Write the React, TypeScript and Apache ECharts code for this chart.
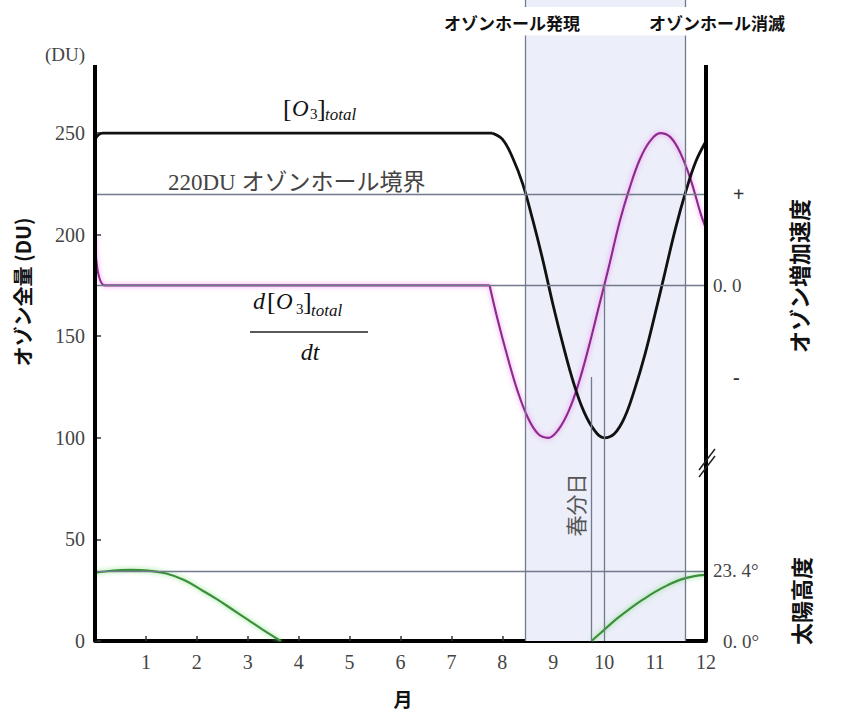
import React, { useEffect, useRef } from "react";
import * as echarts from "echarts";

// ---- data ----
const o3FlatMonths = [0, 0.15, 7.8];
const o3FlatValues = [247, 250, 250];
const o3WaveMonths = [7.8, 8.0, 8.2, 8.4, 8.6, 8.8, 9.0, 9.2, 9.4, 9.6, 9.8, 10.0, 10.2, 10.4, 10.6, 10.8, 11.0, 11.2, 11.4, 11.6, 11.8, 12.0];
const o3WaveValues = [250, 247, 238, 225, 207, 187, 165, 145, 127, 113, 104, 100, 102, 110, 124, 141, 161, 182, 203, 221, 236, 246];

const rateFlatMonths = [0, 0.2, 7.75];
const rateFlatValues = [200, 175, 175];
const rateWaveMonths = [7.75, 7.9, 8.1, 8.3, 8.5, 8.7, 8.9, 9.1, 9.3, 9.5, 9.7, 9.9, 10.1, 10.3, 10.5, 10.7, 10.9, 11.1, 11.3, 11.5, 11.7, 11.9, 12.0];
const rateWaveValues = [175, 159, 140, 123, 110, 102, 100, 104, 113, 127, 145, 165, 185, 206, 223, 237, 246, 250, 248, 240, 227, 210, 203];

const sunWinterMonths = [0, 0.35, 0.7, 1.05, 1.4, 1.75, 2.1, 2.4, 2.7, 3.0, 3.3, 3.65];
const sunWinterValues = [33.5, 34.7, 35, 34.6, 33.2, 30, 25, 20.5, 15.5, 10.5, 5.5, 0];
const sunSpringMonths = [9.75, 10.0, 10.25, 10.5, 10.75, 11.0, 11.25, 11.5, 11.75, 12.0];
const sunSpringValues = [0, 5.5, 11, 15.8, 20.2, 24.2, 27.5, 30.2, 31.8, 32.5];

const boundaryDU = 220; // ozone hole boundary
const rateZeroDU = 175; // 0.0 of growth-rate axis
const sunMaxDU = 34.5; // 23.4 deg level
const holeStart = 8.45;
const holeEnd = 11.6;
const equinoxMonth = 9.75;
const minMonth = 10;
const equinoxLineTop = 130;

const monthTicks = [1, 2, 3, 4, 5, 6, 7, 8, 9, 10, 11, 12];
const duTicks = [0, 50, 100, 150, 200, 250];
const rightTickValues = [0, 34.5, 130, 175, 220];
const rightTickLabels = ["0. 0°", "23. 4°", "-", "0. 0", "+"];

const xMax = 12;
const yMax = 315.5;
const axisTop = 283.5;
const bandTop = 298;
const bracketBottom = 312;

const zip = (xs: number[], ys: number[]) => xs.map((x, i) => [x, ys[i]]);

const SERIF = "'Liberation Serif', 'Times New Roman', serif";
const SERIF_JP = "'Liberation Serif', 'Noto Sans CJK JP', serif";
const SANS_JP = "'Noto Sans CJK JP', sans-serif";
const GUIDE = "#727a8c";
const SHADE = "#eceef9";
const LABEL = "#444";

function txt(x: number, y: number, text: string, o: any = {}) {
  return {
    type: "text",
    x,
    y,
    rotation: o.rotation || 0,
    silent: true,
    z: 10,
    style: {
      text,
      fontSize: o.size || 16,
      fontFamily: o.family || SERIF,
      fontWeight: o.weight || "normal",
      fontStyle: o.style || "normal",
      fill: o.fill || "#111",
      align: o.align || "center",
      textAlign: o.align || "center",
      verticalAlign: "middle",
      textVerticalAlign: "middle",
    },
  };
}

export default function App() {
  const ref = useRef<HTMLDivElement>(null);

  useEffect(() => {
    if (!ref.current) return;
    const chart = echarts.init(ref.current, null, { renderer: "svg" });

    const lineSeries = (data: number[][], color: string, width: number, shadow?: string) => ({
      type: "line",
      data,
      smooth: 0.4,
      symbol: "none",
      silent: true,
      z: 3,
      lineStyle: {
        color,
        width,
        ...(shadow ? { shadowColor: shadow, shadowBlur: 5 } : {}),
      },
    });

    const hLine = (v: number) => [{ coord: [0, v] }, { coord: [xMax, v] }];
    const vLine = (m: number, y0: number, y1: number) => [{ coord: [m, y0] }, { coord: [m, y1] }];

    const option: any = {
      animation: false,
      backgroundColor: "#ffffff",
      grid: { left: 95, right: 157, top: 0, bottom: 79 },
      xAxis: {
        type: "value",
        min: 0,
        max: xMax,
        interval: 1,
        splitLine: { show: false },
        axisLine: { show: true, lineStyle: { color: "#000", width: 4 } },
        axisTick: { show: true, inside: true, length: 5, customValues: monthTicks, lineStyle: { color: "#333", width: 1.5 } },
        axisLabel: { customValues: monthTicks, color: LABEL, fontFamily: SERIF, fontSize: 20, margin: 11 },
      },
      yAxis: [
        {
          type: "value",
          min: 0,
          max: yMax,
          splitLine: { show: false },
          axisLine: { show: false },
          axisTick: { show: true, inside: true, length: 6, customValues: duTicks, lineStyle: { color: "#333", width: 1.5 } },
          axisLabel: { customValues: duTicks, color: LABEL, fontFamily: SERIF, fontSize: 20, margin: 10 },
        },
        {
          type: "value",
          position: "right",
          min: 0,
          max: yMax,
          splitLine: { show: false },
          axisLine: { show: false },
          axisTick: { show: false },
          axisLabel: {
            customValues: rightTickValues,
            margin: 7,
            color: LABEL,
            fontFamily: SERIF,
            fontSize: 19,
            formatter: (v: number) => {
              const i = rightTickValues.indexOf(v);
              const s = i >= 0 ? rightTickLabels[i] : "";
              if (s === "+" || s === "-") return "{pm|" + s + "}";
              if (s === "0. 0°") return "{deg0|" + s + "}";
              return s;
            },
            rich: {
              pm: { padding: [0, 0, 0, 20], fontSize: 20, fontWeight: "bold", fontFamily: SERIF, color: "#333" },
              deg0: { padding: [0, 0, 0, 10], fontSize: 19, fontFamily: SERIF, color: LABEL },
            },
          },
        },
      ],
      series: [
        {
          type: "line",
          data: [],
          z: 1,
          silent: true,
          symbol: "none",
          markArea: {
            silent: true,
            itemStyle: { color: SHADE },
            data: [
              [{ coord: [holeStart, 0] }, { coord: [holeEnd, bandTop] }],
              [{ coord: [holeStart, bracketBottom] }, { coord: [holeEnd, yMax] }],
            ],
          },
          markLine: {
            silent: true,
            symbol: "none",
            label: { show: false },
            lineStyle: { color: GUIDE, width: 1.3, type: "solid" },
            data: [
              hLine(boundaryDU),
              hLine(rateZeroDU),
              hLine(sunMaxDU),
              vLine(holeStart, 0, bandTop),
              vLine(holeEnd, 0, bandTop),
              vLine(holeStart, bracketBottom, yMax),
              vLine(holeEnd, bracketBottom, yMax),
              vLine(minMonth, 0, rateZeroDU),
              vLine(equinoxMonth, 0, equinoxLineTop),
            ],
          },
        },
        lineSeries(zip(sunWinterMonths, sunWinterValues), "#3b8f3b", 2.2, "#7fe07f"),
        lineSeries(zip(sunSpringMonths, sunSpringValues), "#3b8f3b", 2.2, "#7fe07f"),
        lineSeries(zip(rateFlatMonths, rateFlatValues), "#8e2a8e", 2.2, "#f28cf2"),
        lineSeries(zip(rateWaveMonths, rateWaveValues), "#8e2a8e", 2.2, "#f28cf2"),
        lineSeries(zip(o3FlatMonths, o3FlatValues), "#111", 2.8),
        lineSeries(zip(o3WaveMonths, o3WaveValues), "#111", 2.8),
        {
          type: "line",
          data: [],
          z: 5,
          silent: true,
          symbol: "none",
          markLine: {
            silent: true,
            symbol: "none",
            label: { show: false },
            lineStyle: { color: "#000", width: 4, type: "solid" },
            data: [vLine(0, 0, axisTop), vLine(xMax, 0, axisTop)],
          },
        },
      ],
      graphic: [
        txt(65, 54, "(DU)", { size: 19, fill: LABEL }),
        txt(22, 292, "オゾン全量 (DU)", { family: SANS_JP, weight: "bold", size: 20, rotation: Math.PI / 2 }),
        txt(798, 276, "オゾン増加速度", { family: SANS_JP, weight: "bold", size: 22, rotation: Math.PI / 2 }),
        txt(800, 601, "太陽高度", { family: SANS_JP, weight: "bold", size: 22, rotation: Math.PI / 2 }),
        txt(403, 698, "月", { family: SANS_JP, weight: "bold", size: 19 }),
        txt(512, 22, "オゾンホール発現", { family: SANS_JP, weight: "bold", size: 17 }),
        txt(717, 22, "オゾンホール消滅", { family: SANS_JP, weight: "bold", size: 17 }),
        txt(168, 182, "220DU オゾンホール境界", { family: SERIF_JP, size: 23, fill: LABEL, align: "left" }),
        txt(577, 505, "春分日", { family: SERIF_JP, size: 21, fill: "#555", rotation: Math.PI / 2 }),
        // [O3]total
        txt(283, 108, "[", { size: 26, align: "left" }),
        txt(292, 108, "O", { size: 23, style: "italic", align: "left" }),
        txt(310, 114, "3", { size: 15, align: "left" }),
        txt(317, 108, "]", { size: 26, align: "left" }),
        txt(325, 114, "total", { size: 17, style: "italic", align: "left" }),
        // d[O3]total / dt
        txt(253, 301, "d", { size: 24, style: "italic", align: "left" }),
        txt(267, 301, "[", { size: 26, align: "left" }),
        txt(276, 301, "O", { size: 23, style: "italic", align: "left" }),
        txt(296, 309, "3", { size: 15, align: "left" }),
        txt(303, 301, "]", { size: 26, align: "left" }),
        txt(311, 310, "total", { size: 17, style: "italic", align: "left" }),
        {
          type: "line",
          silent: true,
          z: 10,
          shape: { x1: 250, y1: 332, x2: 368, y2: 332 },
          style: { stroke: "#222", lineWidth: 1.5 },
        },
        txt(310, 352, "dt", { size: 24, style: "italic" }),
        // axis break marks on right axis
        {
          type: "line",
          silent: true,
          z: 12,
          shape: { x1: 699, y1: 470, x2: 715, y2: 449 },
          style: { stroke: "#222", lineWidth: 1.5 },
        },
        {
          type: "line",
          silent: true,
          z: 12,
          shape: { x1: 699, y1: 477, x2: 715, y2: 456 },
          style: { stroke: "#222", lineWidth: 1.5 },
        },
      ],
    };

    chart.setOption(option);
    return () => chart.dispose();
  }, []);

  return (
    <div
      ref={ref}
      style={{ position: "fixed", left: 0, top: 0, width: 863, height: 720, background: "#fff" }}
    />
  );
}
